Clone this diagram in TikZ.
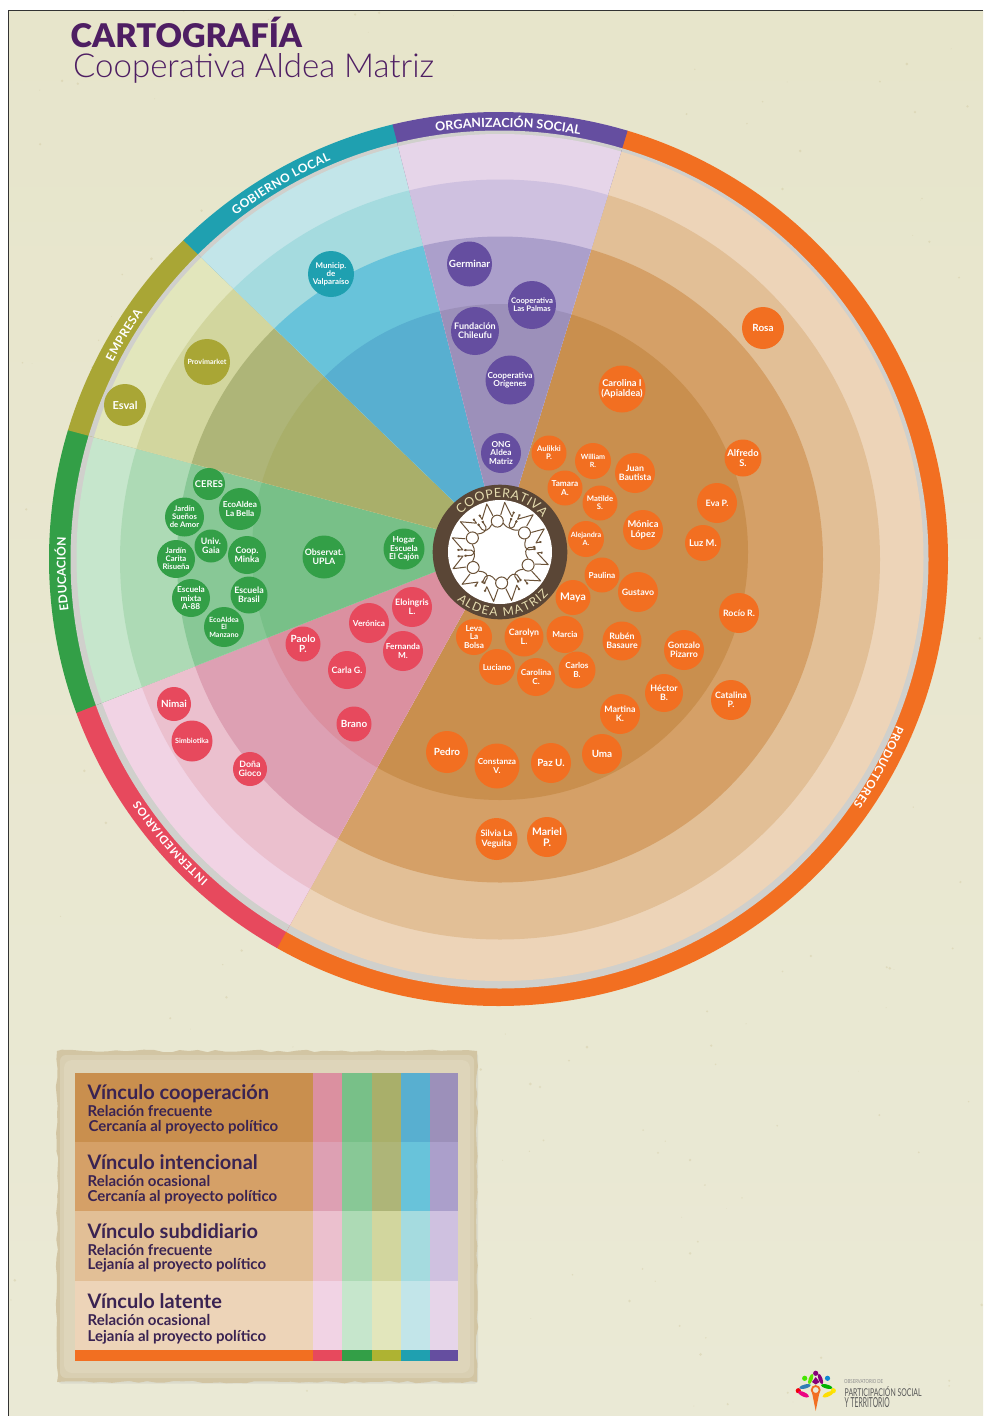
\documentclass[tikz,border=0pt]{standalone}
\usepackage{fontspec}
\usepackage{graphicx}
\usetikzlibrary{decorations.text,decorations.pathmorphing}
\setmainfont{Lato}
\newfontfamily\heavyfont{Lato Black}
\newfontfamily\lightfont{Lato Light}
\definecolor{bgtop}{HTML}{E7E5CB}
\definecolor{bgbot}{HTML}{EAE9D5}
\definecolor{speck}{HTML}{C8BC8C}
\definecolor{ink}{HTML}{4E1E63}
\definecolor{legendink}{HTML}{3A2352}
\definecolor{brown}{HTML}{5A4636}
\definecolor{cream}{HTML}{E6DDB0}
\definecolor{figline}{HTML}{6B5238}
\definecolor{gband}{HTML}{D0D0CC}
\definecolor{papA}{HTML}{D2C5A3}
\definecolor{papB}{HTML}{D9CFB2}
\definecolor{papC}{HTML}{DED5BA}
\definecolor{orA}{HTML}{F26F21}\definecolor{or1}{HTML}{C98F4E}\definecolor{or2}{HTML}{D5A067}\definecolor{or3}{HTML}{E2BF96}\definecolor{or4}{HTML}{EDD4B8}
\definecolor{reA}{HTML}{E7495D}\definecolor{re1}{HTML}{DB90A0}\definecolor{re2}{HTML}{DDA0B3}\definecolor{re3}{HTML}{EBC0CE}\definecolor{re4}{HTML}{F1D3E4}
\definecolor{grA}{HTML}{339F47}\definecolor{gr1}{HTML}{78C088}\definecolor{gr2}{HTML}{88C896}\definecolor{gr3}{HTML}{ADDAB5}\definecolor{gr4}{HTML}{C6E6CC}
\definecolor{olA}{HTML}{A9A635}\definecolor{olB}{HTML}{AEB332}\definecolor{ol1}{HTML}{A9AF6A}\definecolor{ol2}{HTML}{AEB578}\definecolor{ol3}{HTML}{D2D69E}\definecolor{ol4}{HTML}{E2E6BC}
\definecolor{blA}{HTML}{1FA0B0}\definecolor{bl1}{HTML}{58AFD0}\definecolor{bl2}{HTML}{68C3DA}\definecolor{bl3}{HTML}{A5DBDF}\definecolor{bl4}{HTML}{C2E5E9}
\definecolor{puA}{HTML}{654EA0}\definecolor{pu1}{HTML}{9C90BA}\definecolor{pu2}{HTML}{AB9FCB}\definecolor{pu3}{HTML}{CFC1E0}\definecolor{pu4}{HTML}{E6D5E9}
\tikzset{
  persona/.style={circle,inner sep=0pt,text=white,align=center},
  legendhead/.style={anchor=base west,text=legendink,font=\fontsize{20}{20}\selectfont\bfseries},
  legendsub/.style={anchor=base west,text=legendink,font=\fontsize{15}{15}\selectfont\bfseries},
  ringlabel/.style={decorate},
  figstroke/.style={draw=figline,line width=1pt,line join=round,line cap=round},
}
% name x y r fontsize colour text
\newcommand\pers[7]{\pgfmathsetmacro\fsz{#5*1.1}\node[persona,fill=#6,minimum size={2*#4*1pt},font=\fontsize{\fsz}{\fsz}\selectfont\bfseries\setlength\baselineskip{1.03em}] (#1) at (#2,#3) {#7};}
% a1 a2 ring c1 c2 c3 c4
\newcommand\sector[7]{%
\begin{scope}
\clip (500,546) -- +(#1:1500) -- +({#1+(#2-#1)/4}:1500) -- +({#1+(#2-#1)/2}:1500) -- +({#1+3*(#2-#1)/4}:1500) -- +({#2+0.08}:1500) -- cycle;
\fill[#3] (498.5,559) ellipse[x radius=449.5,y radius=447];
\fill[gband] (499.5,559.5) circle[radius=429];
\fill[#7] (500,557.5) circle[radius=423.5];
\fill[#6] (500,559.5) circle[radius=380];
\fill[#5] (500,559.5) circle[radius=323];
\fill[#4] (500,552) circle[radius=248];
\end{scope}}
% a1 a2 size text
\newcommand\ringtext[4]{\path[ringlabel,decoration={text along path,text={|\fontsize{#3}{#3}\selectfont\bfseries\color{white}|#4},text align={fit to path}}] ({497.5+432*cos(#1)},{559+432*sin(#1)}) arc[start angle=#1,end angle=#2,radius=432];}
\begin{document}
\begin{tikzpicture}[x=1pt,y=-1pt]
\useasboundingbox (0,0) rectangle (983,1416);
% paper
\fill[white] (0,0) rectangle (983,1416);
\shade[top color=bgtop,bottom color=bgbot] (8,10) rectangle (983,1416);
\begin{scope}
\clip (8,10) rectangle (983,1416);
\pgfmathsetseed{4711}
\foreach \i in {1,...,260}{
  \pgfmathsetmacro\px{8+975*rnd}\pgfmathsetmacro\py{10+1406*rnd}\pgfmathsetmacro\pr{.3+1.2*rnd}
  \fill[speck,opacity=.3] (\px,\py) circle[radius=\pr];
}
\end{scope}
\draw[black!80,line width=.9pt] (8,1416) -- (8,10) -- (983,10);
% title
\node[anchor=base west,inner sep=0pt,text=ink,font=\fontsize{32.6}{33}\selectfont\heavyfont] (titleA) at (70.5,47) {CARTOGRAFÍA};
\node[anchor=base west,inner sep=0pt,text=ink,font=\fontsize{33}{33}\selectfont\lightfont] (titleB) at (73,77.5) {Cooperativa Aldea Matriz};
% sectors
\sector{-73}{119}{orA}{or1}{or2}{or3}{or4}
\sector{119}{158.5}{reA}{re1}{re2}{re3}{re4}
\sector{158.5}{195}{grA}{gr1}{gr2}{gr3}{gr4}
\sector{195}{224}{olA}{ol1}{ol2}{ol3}{ol4}
\sector{224}{255.7}{blA}{bl1}{bl2}{bl3}{bl4}
\sector{255.7}{287}{puA}{pu1}{pu2}{pu3}{pu4}
% ring labels
\ringtext{-98.2}{-79}{12.5}{ORGANIZACIÓN SOCIAL}
\ringtext{-127.3}{-112.7}{12}{GOBIERNO LOCAL}
\ringtext{-152.9}{-145.2}{12}{EMPRESA}
\ringtext{173.2}{182.9}{12}{EDUCACIÓN}
\ringtext{132}{146.1}{11.2}{INTERMEDIARIOS}
\ringtext{22.6}{34.6}{11.5}{PRODUCTORES}
% centre
\fill[brown] (500,552) circle[radius=67.3];
\fill[white] (500,552) circle[radius=52];
\path[decorate,decoration={text along path,text={|\fontsize{12.5}{13}\selectfont\color{cream}|COOPERATIVA},text align={fit to path}}] ({500+54.5*cos(-136)},{552+54.5*sin(-136)}) arc[start angle=-136,end angle=-39,radius=54.5];
\path[decorate,decoration={text along path,text={|\fontsize{12}{12}\selectfont\color{cream}|ALDEA MATRIZ},text align={fit to path}}] ({500+64.5*cos(132)},{552+64.5*sin(132)}) arc[start angle=132,end angle=41,radius=64.5];
\foreach \t in {-95,-38,25,87,150,207}{
\begin{scope}[shift={(500,552)},rotate=-\t-90]
  \draw[figstroke] (0,-31) circle[radius=6];
  \draw[figstroke] (-4,-37) -- (-9,-49) -- (-15,-34) -- (-17,-38);
  \draw[figstroke] (4,-37) -- (9,-49) -- (15,-34) -- (17,-38);
  \draw[figstroke] (-6,-28) .. controls (-10,-22) and (-13,-22) .. (-16,-24) -- (-19,-29);
  \draw[figstroke] (6,-28) .. controls (10,-22) and (13,-22) .. (16,-24) -- (19,-29);
  \fill[figline] (-19,-29) circle[radius=1.4] (19,-29) circle[radius=1.4] (-17,-38) circle[radius=1.3] (17,-38) circle[radius=1.3];
\end{scope}}
% purple
\pers{a1}{469.5}{264}{22.5}{9}{puA}{Germinar}
\pers{a2}{532}{305}{24}{7}{puA}{Cooperativa\\Las Palmas}
\pers{a3}{475}{331}{24}{8.2}{puA}{Fundación\\Chileufu}
\pers{a4}{510}{380}{24.5}{7.5}{puA}{Cooperativa\\Orígenes}
\pers{a5}{501}{453}{20}{7.5}{puA}{ONG\\Aldea\\Matriz}
% teal, olive
\pers{b1}{331}{274}{23}{7.2}{blA}{Municip.\\de\\Valparaíso}
\pers{c1}{207}{362}{23}{6.5}{olA}{Provimarket}
\pers{c2}{125}{405}{21}{10}{olA}{Esval}
% green
\pers{d1}{209}{484}{16}{8.5}{grA}{CERES}
\pers{d2}{240}{509}{21}{7.5}{grA}{EcoAldea\\La Bella}
\pers{d3}{184.5}{517}{19.5}{7}{grA}{Jardín\\Sueños\\de Amor}
\pers{d4}{211}{546}{16.5}{8}{grA}{Univ.\\Gaia}
\pers{d5}{247}{555}{19}{8}{grA}{Coop.\\Minka}
\pers{d6}{176}{559}{19}{7}{grA}{Jardín\\Carita\\Risueña}
\pers{d7}{324}{557}{21.5}{8}{grA}{Observat.\\UPLA}
\pers{d8}{404}{549}{20.5}{7.5}{grA}{Hogar\\Escuela\\El Cajón}
\pers{d9}{191}{598}{19}{7.5}{grA}{Escuela\\mixta\\A-88}
\pers{d10}{249}{595}{18.5}{8}{grA}{Escuela\\Brasil}
\pers{d11}{224}{627}{20}{6.5}{grA}{EcoAldea\\El\\Manzano}
% red
\pers{e1}{412}{607}{20}{8}{reA}{Eloingris\\L.}
\pers{e2}{369}{623}{20}{7.5}{reA}{Verónica}
\pers{e3}{403}{651}{20}{7.5}{reA}{Fernanda\\M.}
\pers{e4}{303}{644}{17.5}{9}{reA}{Paolo\\P.}
\pers{e5}{347}{670}{19}{8}{reA}{Carla G.}
\pers{e6}{354}{724}{17.5}{9}{reA}{Brano}
\pers{e7}{174}{704}{17}{9}{reA}{Nimai}
\pers{e8}{192}{741}{20.5}{6.5}{reA}{Simbiotika}
\pers{e9}{250}{769}{17}{8}{reA}{Doña\\Gioco}
% orange
\pers{f1}{549}{453}{17.5}{7}{orA}{Aulikki\\P.}
\pers{f2}{593}{461}{18}{6.5}{orA}{William\\R.}
\pers{f3}{635}{473}{20}{8}{orA}{Juan\\Bautista}
\pers{f4}{565}{488}{17.5}{7.5}{orA}{Tamara\\A.}
\pers{f5}{600}{503}{17.5}{7}{orA}{Matilde\\S.}
\pers{f6}{643}{530}{20}{8.5}{orA}{Mónica\\López}
\pers{f7}{586}{539}{18}{6.5}{orA}{Alejandra\\A.}
\pers{f8}{602}{575}{17.5}{7.5}{orA}{Paulina}
\pers{f9}{573}{597.5}{17.5}{9.5}{orA}{Maya}
\pers{f10}{638}{592}{20}{8}{orA}{Gustavo}
\pers{f11}{474}{637}{18}{7.5}{orA}{Leva\\La\\Bolsa}
\pers{f12}{524}{637}{19.5}{8}{orA}{Carolyn\\L.}
\pers{f13}{565}{634.5}{18.5}{7.5}{orA}{Marcia}
\pers{f14}{622}{641}{19.5}{8}{orA}{Rubén\\Basaure}
\pers{f15}{684}{650}{20}{8}{orA}{Gonzalo\\Pizarro}
\pers{f16}{497}{667}{18}{7.5}{orA}{Luciano}
\pers{f17}{536}{677}{19}{7.5}{orA}{Carolina\\C.}
\pers{f18}{577}{670}{18.5}{7.5}{orA}{Carlos\\B.}
\pers{f19}{664}{693}{19}{8}{orA}{Héctor\\B.}
\pers{f20}{620}{714}{20}{8}{orA}{Martina\\K.}
\pers{f21}{731}{700}{20}{8}{orA}{Catalina\\P.}
\pers{f22}{447}{752}{21}{9}{orA}{Pedro}
\pers{f23}{497}{766}{22.5}{7.5}{orA}{Constanza\\V.}
\pers{f24}{551}{763}{20}{9}{orA}{Paz U.}
\pers{f25}{602}{754}{20}{9}{orA}{Uma}
\pers{f26}{496.5}{839}{21}{8}{orA}{Silvia La\\Veguita}
\pers{f27}{547}{837}{20}{9.5}{orA}{Mariel\\P.}
\pers{f28}{763}{328}{21}{9}{orA}{Rosa}
\pers{f29}{622}{389}{23.5}{8.5}{orA}{Carolina I\\(Apialdea)}
\pers{f30}{743}{458}{18.5}{8.5}{orA}{Alfredo\\S.}
\pers{f31}{717}{503}{20}{8}{orA}{Eva P.}
\pers{f32}{703}{543}{18}{8.5}{orA}{Luz M.}
\pers{f33}{739}{613}{20}{8}{orA}{Rocío R.}
% legend paper
\fill[black!30,opacity=.25,rounded corners=3pt] (58,1053) rectangle (478,1383.5);
\fill[papA,decorate,decoration={random steps,segment length=9pt,amplitude=1.3pt}] (57,1051) rectangle (477,1382);
\fill[papB,rounded corners=6pt] (60,1055) rectangle (474,1378);
\fill[papC,rounded corners=8pt] (64,1060) rectangle (470,1373);
% legend table
\fill[or1] (75,1072.7) rectangle (313.3,1142);
\fill[or2] (75,1142) rectangle (313.3,1211.3);
\fill[or3] (75,1211.3) rectangle (313.3,1280.7);
\fill[or4] (75,1280.7) rectangle (313.3,1350);
\fill[orA] (75,1350) rectangle (313.3,1360.7);
\fill[re1] (313.3,1072.7) rectangle (342.3,1142);
\fill[re2] (313.3,1142) rectangle (342.3,1211.3);
\fill[re3] (313.3,1211.3) rectangle (342.3,1280.7);
\fill[re4] (313.3,1280.7) rectangle (342.3,1350);
\fill[reA] (313.3,1350) rectangle (342.3,1360.7);
\fill[gr1] (342.3,1072.7) rectangle (371.5,1142);
\fill[gr2] (342.3,1142) rectangle (371.5,1211.3);
\fill[gr3] (342.3,1211.3) rectangle (371.5,1280.7);
\fill[gr4] (342.3,1280.7) rectangle (371.5,1350);
\fill[grA] (342.3,1350) rectangle (371.5,1360.7);
\fill[ol1] (371.5,1072.7) rectangle (400.5,1142);
\fill[ol2] (371.5,1142) rectangle (400.5,1211.3);
\fill[ol3] (371.5,1211.3) rectangle (400.5,1280.7);
\fill[ol4] (371.5,1280.7) rectangle (400.5,1350);
\fill[olB] (371.5,1350) rectangle (400.5,1360.7);
\fill[bl1] (400.5,1072.7) rectangle (429.5,1142);
\fill[bl2] (400.5,1142) rectangle (429.5,1211.3);
\fill[bl3] (400.5,1211.3) rectangle (429.5,1280.7);
\fill[bl4] (400.5,1280.7) rectangle (429.5,1350);
\fill[blA] (400.5,1350) rectangle (429.5,1360.7);
\fill[pu1] (429.5,1072.7) rectangle (458.3,1142);
\fill[pu2] (429.5,1142) rectangle (458.3,1211.3);
\fill[pu3] (429.5,1211.3) rectangle (458.3,1280.7);
\fill[pu4] (429.5,1280.7) rectangle (458.3,1350);
\fill[puA] (429.5,1350) rectangle (458.3,1360.7);
\node[legendhead,inner sep=0pt] (h1) at (87.5,1099) {Vínculo cooperación};
\node[legendsub,inner sep=0pt] (s1a) at (87.5,1116) {Relación frecuente};
\node[legendsub,inner sep=0pt] (s1b) at (88.5,1131) {Cercanía al proyecto político};
\node[legendhead,inner sep=0pt] (h2) at (87.5,1169) {Vínculo intencional};
\node[legendsub,inner sep=0pt] (s2a) at (87.5,1186) {Relación ocasional};
\node[legendsub,inner sep=0pt] (s2b) at (87.5,1201) {Cercanía al proyecto político};
\node[legendhead,inner sep=0pt] (h3) at (87.5,1238) {Vínculo subdidiario};
\node[legendsub,inner sep=0pt] (s3a) at (87.5,1255) {Relación frecuente};
\node[legendsub,inner sep=0pt] (s3b) at (87.5,1269) {Lejanía al proyecto político};
\node[legendhead,inner sep=0pt] (h4) at (87.5,1308) {Vínculo latente};
\node[legendsub,inner sep=0pt] (s4a) at (87.5,1325) {Relación ocasional};
\node[legendsub,inner sep=0pt] (s4b) at (87.5,1341) {Lejanía al proyecto político};
% observatory logo
\fill[purple!70!blue] (815.7,1373.3) circle[radius=2.6];
\fill[green!70!yellow!90!black] (804.7,1378.3) circle[radius=2.6];
\fill[cyan!70!blue] (827.5,1378.3) circle[radius=2.6];
\fill[red!80!purple] (798.3,1390.7) circle[radius=2.6];
\fill[yellow!90!orange] (833.3,1390.7) circle[radius=2.6];
\fill[green!60!yellow!90!black,rotate around={70:(810.7,1379)}] (810.7,1379) ellipse[x radius=5.5,y radius=2];
\fill[purple!70!blue,rotate around={-70:(820.5,1379)}] (820.5,1379) ellipse[x radius=5.5,y radius=2];
\fill[purple!70!blue] (812,1382) -- (815.7,1377) -- (819.5,1382) -- (815.7,1384.5) -- cycle;
\fill[cyan!70!blue!80!black,rotate around={15:(805,1386.5)}] (805,1386.5) ellipse[x radius=6,y radius=2];
\fill[green!70!black,rotate around={-15:(826.7,1386.5)}] (826.7,1386.5) ellipse[x radius=6,y radius=2];
\fill[magenta!90!red,rotate around={-25:(803.5,1394.3)}] (803.5,1394.3) ellipse[x radius=6,y radius=2.2];
\fill[yellow!80!orange,rotate around={25:(828,1394.3)}] (828,1394.3) ellipse[x radius=6,y radius=2.2];
\fill[orA] (812,1392.5) -- (815.7,1411) -- (819.4,1392.5) -- cycle;
\draw[orA,line width=1.8pt,fill=bgbot] (815.7,1390) circle[radius=4];
\node[anchor=base west,inner sep=0pt,text=black!45] (obs1) at (844,1383) {\resizebox{39pt}{4pt}{OBSERVATORIO DE}};
\node[anchor=base west,inner sep=0pt,text=black!65] (obs2) at (844.5,1396) {\resizebox{77pt}{10pt}{PARTICIPACIÓN SOCIAL}};
\node[anchor=base west,inner sep=0pt,text=black!65] (obs3) at (844.5,1407.5) {\resizebox{45pt}{10pt}{Y TERRITORIO}};
\end{tikzpicture}
\end{document}
